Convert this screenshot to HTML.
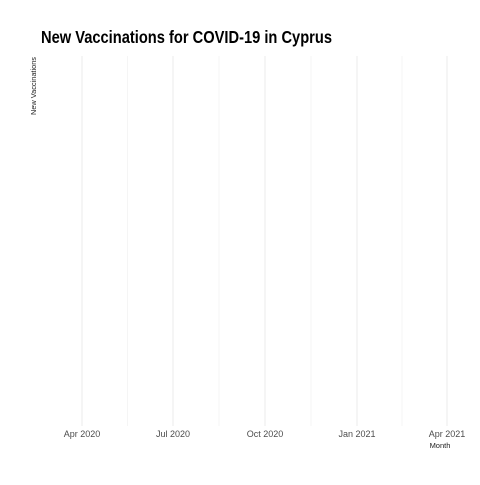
<!DOCTYPE html>
<html><head><meta charset="utf-8"><style>
body{margin:0;background:#fff;width:480px;height:480px;overflow:hidden;font-family:"Liberation Sans",sans-serif}
</style></head><body>
<svg id="chart" width="480" height="480" xmlns="http://www.w3.org/2000/svg">
<rect width="480" height="480" fill="#fff"/>
<text x="41" y="43" font-size="17.5" font-weight="bold" fill="#000" textLength="291" lengthAdjust="spacingAndGlyphs">New Vaccinations for COVID-19 in Cyprus</text>
<text transform="translate(36,115) rotate(-90)" font-size="7.5" fill="#222" textLength="58" lengthAdjust="spacingAndGlyphs">New Vaccinations</text>
<text x="440" y="448" font-size="7.5" fill="#222" text-anchor="middle">Month</text>
<g id="grid"></g><g id="ticks"></g><g id="marks"></g>
</svg>
<script>
const tickDates = ["2020-04-01","2020-07-01","2020-10-01","2021-01-01","2021-04-01"];
const tickLabels = ["Apr 2020","Jul 2020","Oct 2020","Jan 2021","Apr 2021"];
const seriesDates = [];
const seriesValues = [];
const NS="http://www.w3.org/2000/svg";
const d0=Date.parse("2020-04-01"), d1=Date.parse("2021-04-01");
function xScale(d){return 82+(Date.parse(d)-d0)/(d1-d0)*365;}
function xt(t){return 82+(t-d0)/(d1-d0)*365;}
const plotTop=56,plotBottom=426;
const grid=document.getElementById('grid'),ticks=document.getElementById('ticks');
tickDates.forEach((d,i)=>{
  const px=xScale(d);
  const l=document.createElementNS(NS,'line');
  
  
  l.setAttribute('x1',px);l.setAttribute('x2',px);l.setAttribute('y1',plotTop);l.setAttribute('y2',plotBottom);
  l.setAttribute('stroke','#ebebeb');l.setAttribute('stroke-width','1');
  grid.appendChild(l);
  if(i<tickDates.length-1){
    const m=(Date.parse(d)+Date.parse(tickDates[i+1]))/2;
    const mx=xt(m);
    const ml=document.createElementNS(NS,'line');
    
    
    ml.setAttribute('x1',mx);ml.setAttribute('x2',mx);ml.setAttribute('y1',plotTop);ml.setAttribute('y2',plotBottom);
    ml.setAttribute('stroke','#f3f3f3');ml.setAttribute('stroke-width','0.8');
    grid.appendChild(ml);
  }
  const t=document.createElementNS(NS,'text');
  
  
  t.setAttribute('x',px);t.setAttribute('y',437);t.setAttribute('font-size','9');
  t.setAttribute('fill','#4d4d4d');t.setAttribute('text-anchor','middle');
  t.textContent=tickLabels[i];
  ticks.appendChild(t);
});
const maxV=Math.max(1,...seriesValues);
function yScale(v){return plotBottom-v/maxV*(plotBottom-plotTop);}
if(seriesDates.length){
  const p=document.createElementNS(NS,'polyline');
  
  
  p.setAttribute('points',seriesDates.map((d,i)=>xScale(d)+','+yScale(seriesValues[i])).join(' '));
  p.setAttribute('fill','none');p.setAttribute('stroke','#000');
  document.getElementById('marks').appendChild(p);
}
</script>
</body></html>
